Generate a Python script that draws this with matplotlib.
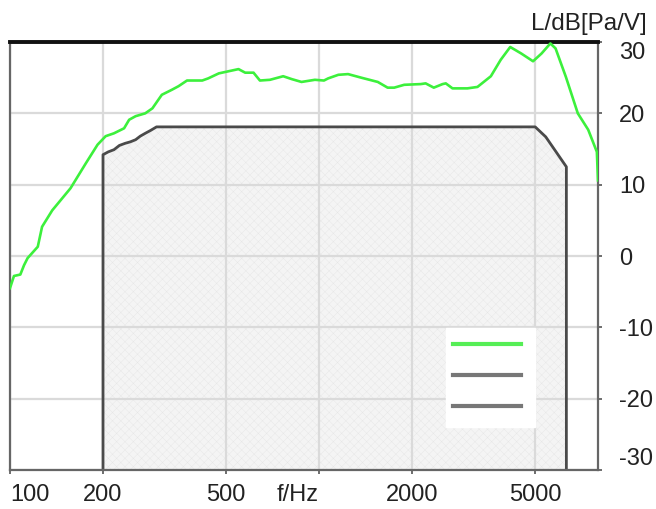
import matplotlib.pyplot as plt
from matplotlib.lines import Line2D

plt.rcParams['font.family'] = ['Liberation Sans', 'DejaVu Sans']
plt.rcParams['hatch.linewidth'] = 0.3
plt.rcParams['axes.unicode_minus'] = False

# measured response (green)
resp_f = [100, 103, 108, 111, 114, 123, 127, 137, 157, 176, 192, 204, 217, 234, 243,
          255, 274, 289, 310, 334, 351, 374, 419, 438, 474, 510, 549, 577, 614, 644,
          694, 766, 816, 878, 970, 1038, 1071, 1155, 1242, 1370, 1550, 1668, 1752,
          1887, 2135, 2214, 2353, 2512, 2573, 2705, 3023, 3258, 3600, 3874, 4159,
          4510, 4930, 5256, 5609, 5831, 6298, 6882, 7437, 7932, 8000]
resp_db = [-4.5, -2.8, -2.6, -1.3, -0.3, 1.3, 4.1, 6.4, 9.5, 13.0, 15.6, 16.8, 17.2,
           17.9, 19.1, 19.6, 20.0, 20.7, 22.6, 23.3, 23.8, 24.6, 24.6, 24.9, 25.6,
           25.9, 26.2, 25.7, 25.7, 24.6, 24.7, 25.2, 24.8, 24.4, 24.7, 24.6, 24.9,
           25.4, 25.5, 25.0, 24.4, 23.6, 23.6, 24.0, 24.1, 24.2, 23.6, 24.1, 24.2,
           23.5, 23.5, 23.7, 25.2, 27.5, 29.3, 28.4, 27.3, 28.4, 29.8, 29.1, 25.1,
           20.0, 17.7, 14.6, 10.6]

# tolerance mask (dark)
mask_f = [200, 200, 208, 217, 226, 236, 245, 255, 264, 274, 285, 298, 5010, 5420, 6320, 6320]
mask_db = [-30, 14.2, 14.6, 14.9, 15.5, 15.8, 16.0, 16.3, 16.8, 17.2, 17.6, 18.1,
           18.1, 16.7, 12.5, -30]

xticks = [100, 200, 500, 1000, 2000, 5000]
xlabels = ['100', '200', '500', 'f/Hz', '2000', '5000']
yticks = [-30, -20, -10, 0, 10, 20, 30]

fig = plt.figure(figsize=(6.56, 5.09), dpi=100)
ax = fig.add_axes([10 / 656, 1 - 470 / 509, 588 / 656, 428 / 509])

ax.fill_between(mask_f, mask_db, -30, facecolor='#f4f4f4', edgecolor='#e6e6e6',
                hatch='xxxx', linewidth=0, zorder=0.3)
ax.plot(mask_f, mask_db, color='#4a4a4a', lw=2, zorder=2)
ax.plot(resp_f, resp_db, color='#3cf03c', lw=1.9, zorder=3)

ax.set_xscale('log')
ax.set_xlim(100, 8000)
ax.set_ylim(-30, 30)
ax.set_xticks(xticks)
ax.set_xticklabels(xlabels)
ax.minorticks_off()
ax.set_yticks(yticks)
ax.set_yticklabels([str(v) for v in yticks])
ax.yaxis.tick_right()
ax.grid(True, color='#dadada', lw=1.6)
ax.set_axisbelow(True)

ax.tick_params(axis='both', direction='out', length=3, width=1.2, color='#555555',
               labelsize=17, labelcolor='#222222')
ax.tick_params(axis='y', pad=12)
ax.tick_params(axis='x', pad=7)

for lab in ax.get_xticklabels():
    if lab.get_text() == '100':
        lab.set_ha('left')
    elif lab.get_text() == 'f/Hz':
        lab.set_ha('right')
for lab in ax.get_yticklabels():
    if lab.get_text() == '30':
        lab.set_va('top')
    elif lab.get_text() == '-30':
        lab.set_va('bottom')

for side in ['left', 'right', 'bottom']:
    ax.spines[side].set_color('#666666')
    ax.spines[side].set_linewidth(1.6)
ax.spines['top'].set_color('#111111')
ax.spines['top'].set_linewidth(2.8)

handles = [Line2D([], [], color='#55ee55', lw=3),
           Line2D([], [], color='#777777', lw=3),
           Line2D([], [], color='#777777', lw=3)]
leg = ax.legend(handles, [' ', ' ', ' '], loc='center', bbox_to_anchor=(0.817, 0.216),
                frameon=True, fancybox=False, framealpha=1, facecolor='white',
                edgecolor='white', fontsize=17, handlelength=2.9, handletextpad=0,
                labelspacing=0.38, borderpad=0.3, borderaxespad=0)
leg.set_zorder(5)

fig.text(647 / 656, 1 - 24 / 509, 'L/dB[Pa/V]', ha='right', va='center',
         fontsize=17.5, color='#222222')

fig.savefig('out.png', dpi=100)
